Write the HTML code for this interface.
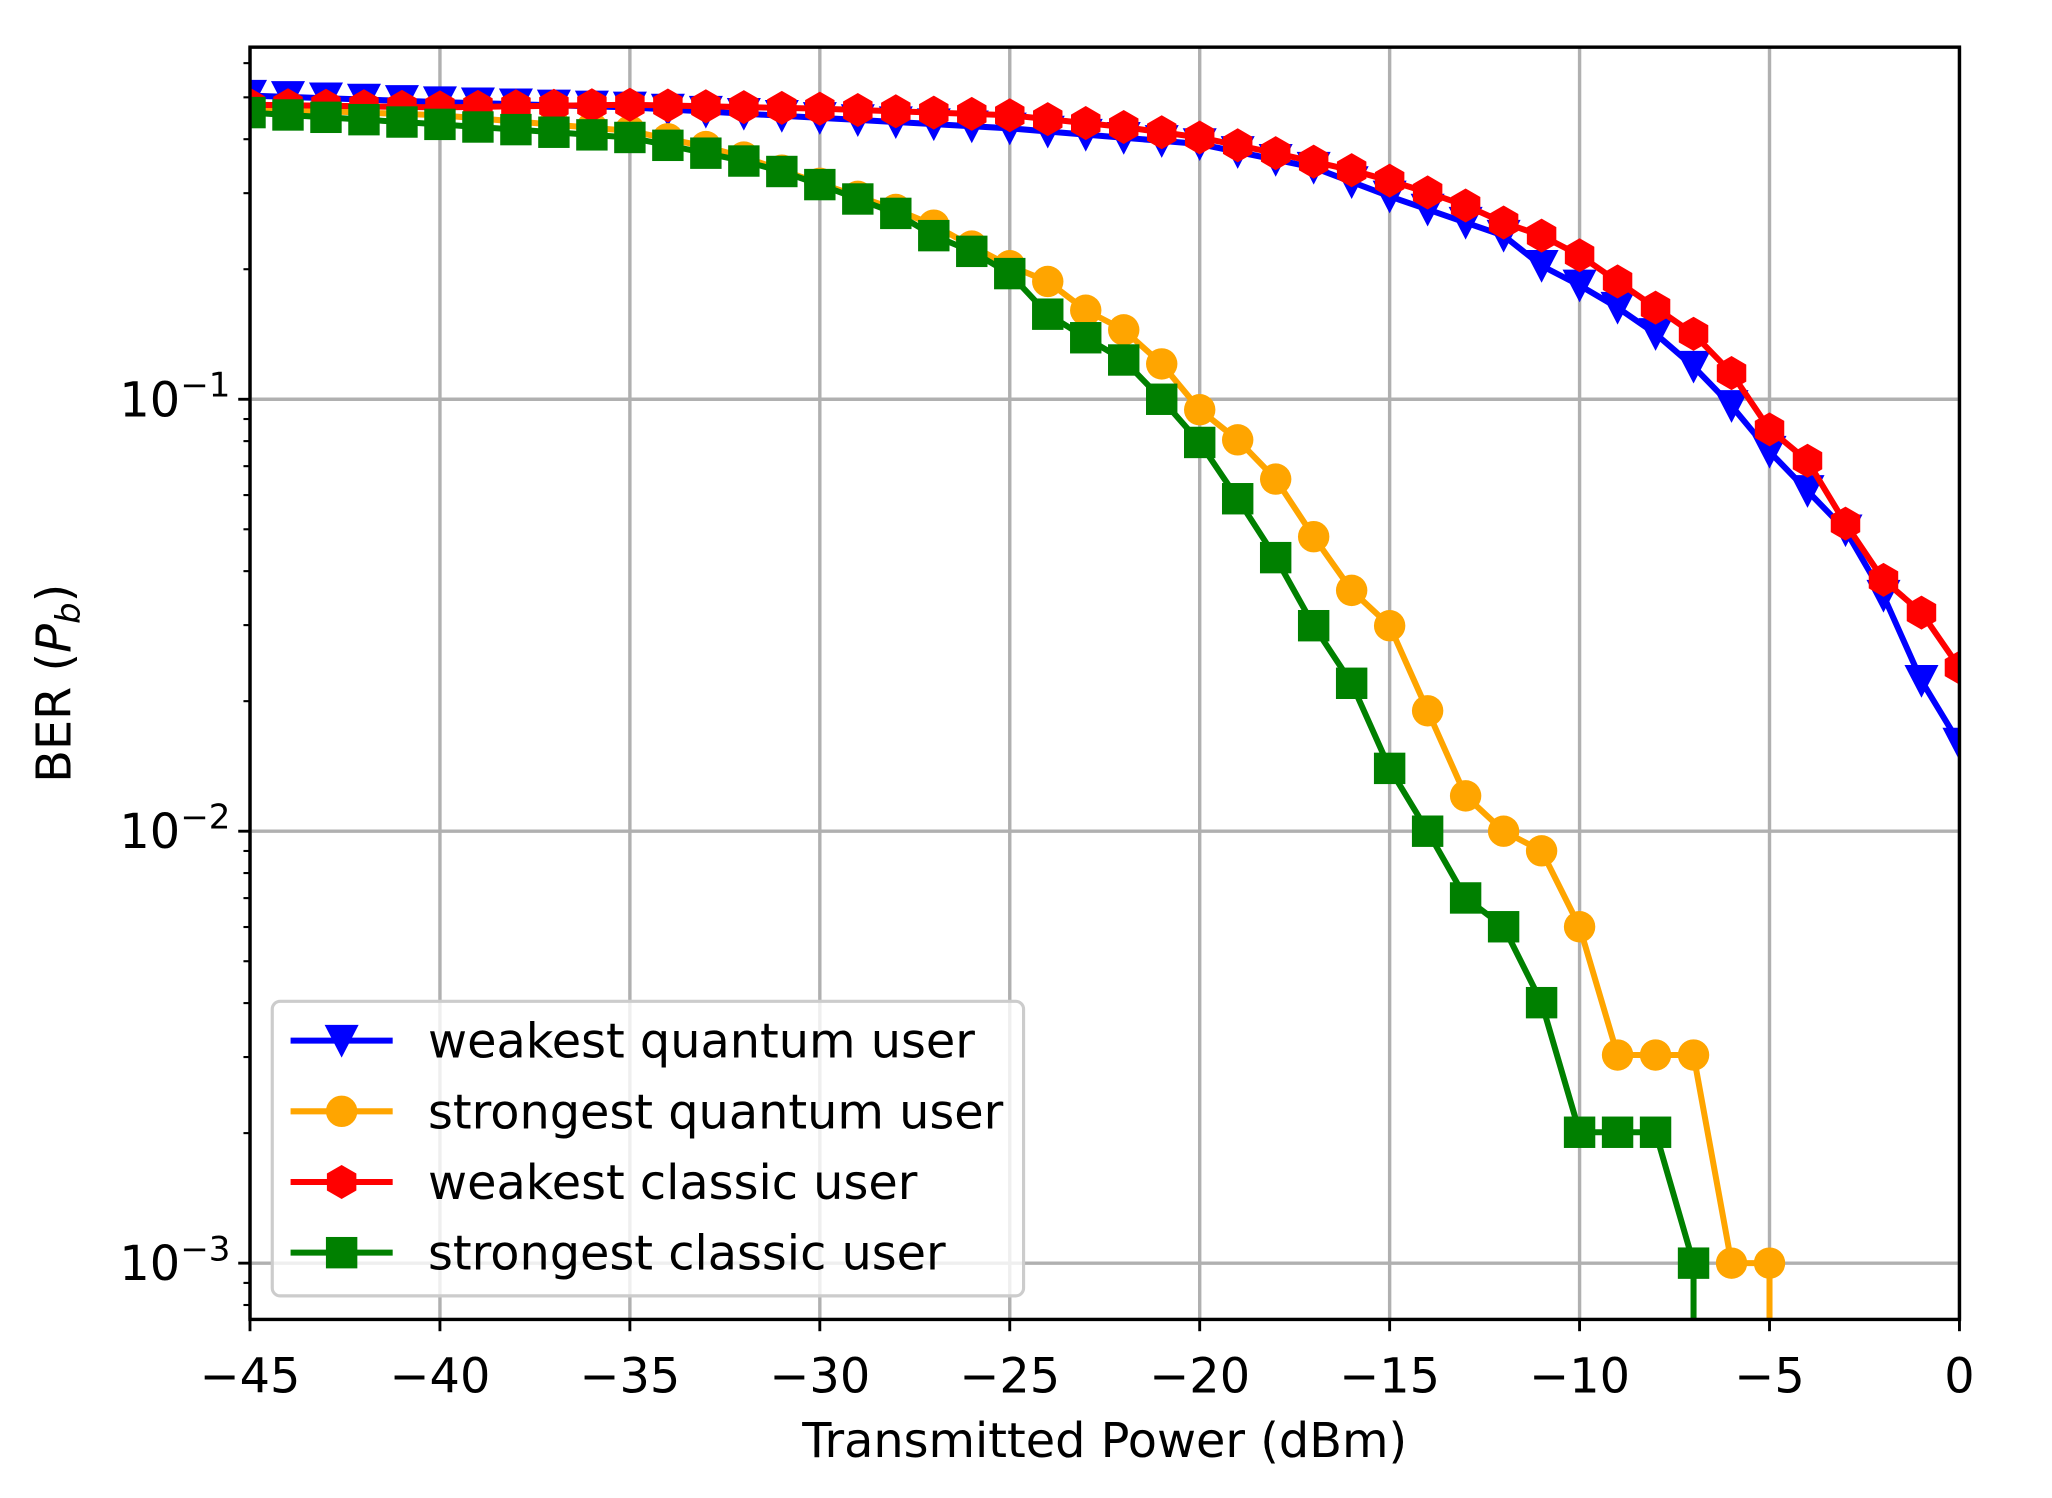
<!DOCTYPE html>
<html><head><meta charset="utf-8"><style>html,body{margin:0;padding:0;background:#fff}svg{display:block}</style></head>
<body>
<svg id="s" width="2052" height="1498" viewBox="0 0 1567.7 1144.4" xmlns="http://www.w3.org/2000/svg" font-family="'DejaVu Sans','Liberation Sans',sans-serif">
<rect width="1568" height="1145" fill="#fff"/>
<g id="grid" stroke="#b0b0b0" stroke-width="2.6"></g>
<g id="ticks" stroke="#000"></g>
<g id="series"></g>
<rect x="191" y="36" width="1306" height="972" fill="none" stroke="#000" stroke-width="2.6"/>
<g id="labels" font-size="36.5" fill="#000"></g>
<text x="844" y="1113" font-size="36.5" text-anchor="middle">Transmitted Power (dBm)</text>
<text transform="translate(54,522) rotate(-90)" font-size="36.5" text-anchor="middle">BER (<tspan font-style="italic">P</tspan><tspan font-style="italic" font-size="26" dy="7">b</tspan><tspan dy="-7">)</tspan></text>
<g id="legend"></g>
</svg>
<script>
const NS="http://www.w3.org/2000/svg";
function el(p,t,a,txt){const e=document.createElementNS(NS,t);for(const k in a)e.setAttribute(k,a[k]);if(txt!==undefined)e.textContent=txt;p.appendChild(e);return e;}
const X=v=>191+(v+45)*1306/45;
const L=191,R=1497,T=36,B=1008;
const grid=document.getElementById('grid'),ticks=document.getElementById('ticks'),labels=document.getElementById('labels');
for(let v=-45;v<=0;v+=5){const x=X(v);el(grid,'line',{x1:x,x2:x,y1:T,y2:B});el(ticks,'line',{x1:x,x2:x,y1:B,y2:B+9,'stroke-width':2.2});
el(labels,'text',{x:x,y:1064,'text-anchor':'middle'},v<0?'\u2212'+(-v):'0');}
const Y=d=>305+(-1-d)*330;
[-1,-2,-3].forEach(d=>{const y=Y(d);el(grid,'line',{x1:L,x2:R,y1:y,y2:y});el(ticks,'line',{x1:L-9,x2:L,y1:y,y2:y,'stroke-width':2.2});
const t=el(labels,'text',{x:176,y:y+13,'text-anchor':'end'},'10');el(t,'tspan',{dy:-15,'font-size':26},'\u2212'+(-d));});
for(let d=-4;d<0;d++)for(let m=2;m<10;m++){const y=Y(d+Math.log10(m));if(y>T&&y<B)el(ticks,'line',{x1:L-5,x2:L,y1:y,y2:y,'stroke-width':1.6});}
function interp(pts){const m={};const ks=Object.keys(pts).map(Number).sort((a,b)=>a-b);for(let i=0;i<ks.length-1;i++){const a=ks[i],b=ks[i+1];for(let v=a;v<=b;v++)m[v]=pts[a]+(pts[b]-pts[a])*(v-a)/(b-a);}return m;}
const blue=interp({'-45':73,'-40':78,'-35':82,'-30':90,'-25':98,'-20':110,'-17':128,'-15':150,'-13':170,'-12':180,'-11':203,'-10':218,'-9':235,'-8':255,'-7':280,'-6':310,'-5':345,'-4':375,'-3':405,'-2':455,'-1':520,'0':568});
const red=interp({'-45':80,'-40':82,'-35':80,'-30':83,'-25':88,'-22':97,'-20':105,'-18':117,'-16':130,'-15':138,'-14':147,'-13':157,'-12':170,'-11':180,'-10':195,'-9':215,'-8':235,'-7':255,'-6':285,'-5':328,'-4':352,'-3':400,'-2':443,'-1':468,'0':510});
const orange=interp({'-45':83,'-40':88,'-35':100,'-33':112,'-32':120,'-31':130,'-30':140,'-29':150,'-28':160,'-27':172,'-26':188,'-25':203,'-24':215,'-23':237,'-22':252,'-21':278,'-20':313,'-19':336,'-18':366,'-17':410,'-16':451,'-15':478,'-14':543,'-13':608,'-12':635,'-11':650,'-10':708,'-9':806,'-8':806,'-7':806,'-6':965,'-5':965});
const green=interp({'-45':86,'-40':95,'-35':105,'-34':111,'-33':117,'-32':123,'-31':131,'-30':141,'-29':152,'-28':163,'-27':180,'-26':192,'-25':209,'-24':240,'-23':258,'-22':275,'-21':305,'-20':338,'-19':381,'-18':426,'-17':478,'-16':522,'-15':587,'-14':635,'-13':686,'-12':708,'-11':766,'-10':865,'-9':865,'-8':865,'-7':965});
const S=document.getElementById('series');
function marker(g,type,x,y,c){
 if(type==='v')el(g,'polygon',{points:`${x-13},${y-12} ${x+13},${y-12} ${x},${y+13}`,fill:c});
 else if(type==='o')el(g,'circle',{cx:x,cy:y,r:12,fill:c});
 else if(type==='h'){let p=[];for(let i=0;i<6;i++){const a=Math.PI/2+i*Math.PI/3;p.push((x+13*Math.cos(a))+','+(y+13*Math.sin(a)));}el(g,'polygon',{points:p.join(' '),fill:c});}
 else if(type==='s')el(g,'rect',{x:x-12,y:y-12,width:24,height:24,fill:c});
}
function series(m,c,type,tail){const g=el(S,'g',{});const ks=Object.keys(m).map(Number).sort((a,b)=>a-b);
 let pts=ks.map(k=>X(k)+','+m[k]);if(tail!==undefined)pts.push(X(tail)+','+B);
 el(g,'polyline',{points:pts.join(' '),fill:'none',stroke:c,'stroke-width':4.6,'stroke-linejoin':'round'});
 ks.forEach(k=>marker(g,type,X(k),m[k],c));}
const cs=document.createElementNS(NS,'clipPath');cs.id='c';el(cs,'rect',{x:L,y:T,width:R-L,height:B-T});document.getElementById('s').appendChild(cs);
S.setAttribute('clip-path','url(#c)');
series(blue,'#0000ff','v');series(orange,'#ffa500','o',-5);series(red,'#ff0000','h');series(green,'#008000','s',-7);
const lg=document.getElementById('legend');
el(lg,'rect',{x:208,y:765,width:574,height:225,rx:6,fill:'#fff','fill-opacity':0.8,stroke:'#cccccc','stroke-width':2.4});
[['weakest quantum user','#0000ff','v'],['strongest quantum user','#ffa500','o'],['weakest classic user','#ff0000','h'],['strongest classic user','#008000','s']].forEach((d,i)=>{
 const y=795+i*54;el(lg,'line',{x1:222,x2:300,y1:y,y2:y,stroke:d[1],'stroke-width':4.6});marker(lg,d[2],261,y,d[1]);
 el(lg,'text',{x:327,y:y+13,'font-size':36.5},d[0]);});
</script>
</body></html>
